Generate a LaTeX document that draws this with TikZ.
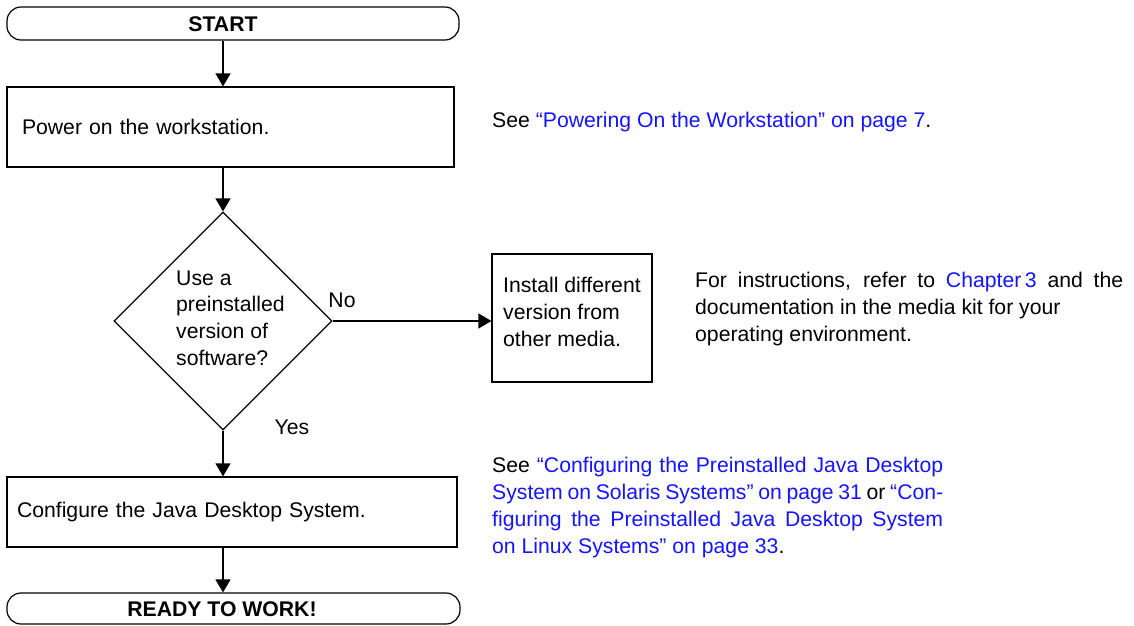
\documentclass[tikz,border=0pt]{standalone}
\usepackage{fontspec}
\setmainfont{Liberation Sans}
\usetikzlibrary{arrows.meta,shapes.geometric}
\definecolor{linkblue}{RGB}{20,20,255}
\newcommand{\lk}[1]{\textcolor{linkblue}{#1}}
\begin{document}
\begin{tikzpicture}[x=1pt,y=-1pt,
  every node/.style={font=\fontsize{21.2}{26.7}\selectfont, inner sep=0pt},
  boldtxt/.style={font=\fontsize{21.2}{26.7}\selectfont\bfseries},
  box/.style={draw, line width=1.2pt, rectangle},
  term/.style={draw, line width=1.2pt, rounded corners=14pt, rectangle},
  arr/.style={line width=1.2pt, -{Triangle[width=15pt,length=13pt]}},
  lbl/.style={anchor=west, align=left}
]
\useasboundingbox (0,0) rectangle (1134,625);
\coordinate (ax) at (223,0);

% terminals
\node[term, minimum width=452pt, minimum height=33pt] (start) at (233,23.5) {};
\node[boldtxt] (starttxt) at (223,24) {START};
\node[term, minimum width=453pt, minimum height=31pt] (ready) at (233.5,608.5) {};
\node[boldtxt] (readytxt) at (222,609) {READY TO WORK!};

% process boxes
\node[box, minimum width=447pt, minimum height=80pt, text width=417pt, inner xsep=15pt, align=left] (power) at (230.5,127) {Power on the workstation.};
\node[box, minimum width=450pt, minimum height=70pt, text width=430pt, inner xsep=10pt, align=left] (conf) at (232,512) {Configure the Java Desktop System.};
\node[box, minimum width=160pt, minimum height=128pt] (inst) at (572,318) {};
\node[lbl] (insttxt) at (503,312) {Install different\\version from\\other media.};

% decision
\node[draw, diamond, line width=1.2pt, minimum width=218pt, minimum height=218pt] (dec) at (223,321) {};
\node[lbl] (dectxt) at (176,318) {Use a\\preinstalled\\version of\\software?};
\node (no) at (342,300) {No};
\node (yes) at (292,427) {Yes};

% connectors
\draw[arr] (start.south -| ax) -- (power.north -| ax);
\draw[arr] (power.south -| ax) -- (dec.north);
\draw[arr] (dec.east) -- (dec.east -| inst.west);
\draw[arr] (dec.south) -- (conf.north -| ax);
\draw[arr] (conf.south -| ax) -- (ready.north -| ax);

% side notes
\node[lbl] (seepower) at (492,122) {See \lk{“Powering On the Workstation” on page 7}.};
\node[lbl] (instr) at (695,309) {\makebox[428pt][s]{For instructions, refer to \lk{Chapter\,3} and the}\\documentation in the media kit for your\\operating environment.};
\node[lbl] (seeconf) at (492,507.5) {\makebox[451pt][s]{See \lk{“Configuring the Preinstalled Java Desktop}}\\
\makebox[451pt][s]{\lk{System on Solaris Systems” on page 31} or \lk{“Con-}}\\
\makebox[451pt][s]{\lk{figuring the Preinstalled Java Desktop System}}\\
\lk{on Linux Systems” on page 33}.};
\end{tikzpicture}
\end{document}
